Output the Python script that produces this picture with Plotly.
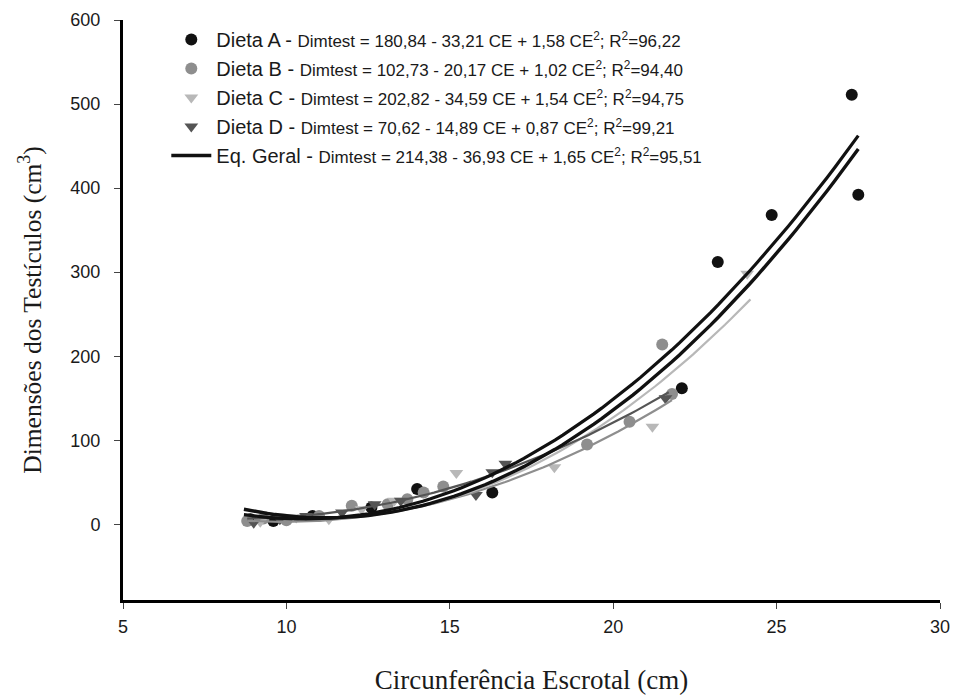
import numpy as np
import plotly.graph_objects as go

# --- data ---
a_x = [8.9, 9.6, 10.8, 12.6, 14.0, 16.3, 22.1, 23.2, 24.85, 27.3, 27.5]
a_y = [6, 4, 10, 20, 42, 38, 162, 312, 368, 511, 392]
b_x = [8.8, 9.3, 10.0, 11.0, 12.0, 13.1, 13.7, 14.2, 14.8, 19.2, 20.5, 21.5, 21.8]
b_y = [4, 7, 5, 10, 22, 24, 30, 38, 45, 95, 122, 214, 155]
c_x = [9.2, 10.3, 11.3, 12.3, 13.3, 15.2, 18.2, 21.2, 24.1]
c_y = [3, 8, 6, 18, 28, 61, 68, 116, 298]
d_x = [9.0, 9.8, 10.6, 11.7, 12.7, 13.5, 15.8, 16.3, 16.7, 21.6]
d_y = [2, 6, 10, 14, 24, 28, 35, 62, 72, 150]

# regression coefficients from the legend (b0, b1, b2) and fitted ranges
coef_a = [180.84, -33.21, 1.58]
coef_b = [102.73, -20.17, 1.02]
coef_c = [202.82, -34.59, 1.54]
coef_d = [70.62, -14.89, 0.87]
coef_g = [214.38, -36.93, 1.65]
range_a = [8.7, 27.5]
range_b = [8.8, 21.8]
range_c = [8.8, 24.2]
range_d = [8.8, 21.7]
range_g = [8.7, 27.5]

names = ["Dieta A", "Dieta B", "Dieta C", "Dieta D", "Eq. Geral"]
eqs = ["Dimtest = 180,84 - 33,21 CE + 1,58 CE<sup>2</sup>; R<sup>2</sup>=96,22",
       "Dimtest = 102,73 - 20,17 CE + 1,02 CE<sup>2</sup>; R<sup>2</sup>=94,40",
       "Dimtest = 202,82 - 34,59 CE + 1,54 CE<sup>2</sup>; R<sup>2</sup>=94,75",
       "Dimtest = 70,62 - 14,89 CE + 0,87 CE<sup>2</sup>; R<sup>2</sup>=99,21",
       "Dimtest = 214,38 - 36,93 CE + 1,65 CE<sup>2</sup>; R<sup>2</sup>=95,51"]

x_ticks = [5, 10, 15, 20, 25, 30]
y_ticks = [0, 100, 200, 300, 400, 500, 600]


def label(i):
    return names[i] + " - <span style=\"font-size:17px\">" + eqs[i] + "</span>"


def curve(coef, rng):
    xs = np.linspace(rng[0], rng[1], 80)
    return xs, coef[0] + coef[1] * xs + coef[2] * xs ** 2


fig = go.Figure()

pts = [(a_x, a_y, "circle", "#111111"),
       (b_x, b_y, "circle", "#8e8e8e"),
       (c_x, c_y, "triangle-down", "#b8b8b8"),
       (d_x, d_y, "triangle-down", "#555555")]
for i, (xs, ys, sym, col) in enumerate(pts):
    fig.add_trace(go.Scatter(x=xs, y=ys, mode="markers", name=label(i),
                             legendgroup="g%d" % i,
                             marker=dict(symbol=sym, color=col, size=12, line=dict(width=0))))

for coef, rng, col, w in [(coef_b, range_b, "#8e8e8e", 2.2),
                          (coef_c, range_c, "#b8b8b8", 2.2),
                          (coef_d, range_d, "#555555", 2.2)]:
    cx, cy = curve(coef, rng)
    fig.add_trace(go.Scatter(x=cx, y=cy, mode="lines", showlegend=False,
                             line=dict(color=col, width=w)))

cx, cy = curve(coef_a, range_a)
fig.add_trace(go.Scatter(x=cx, y=cy, mode="lines", showlegend=False,
                         line=dict(color="#111111", width=3.2)))
cx, cy = curve(coef_g, range_g)
fig.add_trace(go.Scatter(x=cx, y=cy, mode="lines", name=label(4), legendgroup="g4",
                         line=dict(color="#111111", width=3.4)))

serif = "Liberation Serif, Times New Roman, serif"
# the page body adds an 8px margin, so the figure is sized to fit the 958x695 window
fig.update_layout(
    width=950, height=687,
    margin=dict(l=115, r=18, t=12, b=95),
    plot_bgcolor="white", paper_bgcolor="white",
    font=dict(family="Liberation Sans, Arial, sans-serif", color="#1a1a1a"),
    showlegend=True,
    legend=dict(x=0.053, y=1.0, xanchor="left", yanchor="top",
                bgcolor="rgba(0,0,0,0)", font=dict(size=20, color="#1a1a1a"),
                itemwidth=40, tracegroupgap=0),
    xaxis=dict(range=[5, 30], tickvals=x_ticks, showgrid=False, zeroline=False,
               showline=True, linecolor="black", linewidth=3, automargin=False,
               ticks="outside", ticklen=6, tickwidth=1, tickcolor="#444",
               tickfont=dict(size=18), ticklabelstandoff=2,
               title=dict(text="Circunferência Escrotal (cm)",
                          font=dict(family=serif, size=27), standoff=42)),
    yaxis=dict(range=[-90, 600], tickvals=y_ticks, showgrid=False, zeroline=False,
               showline=True, linecolor="black", linewidth=3, automargin=False,
               ticks="outside", ticklen=6, tickwidth=1, tickcolor="#444",
               tickfont=dict(size=18), ticklabelstandoff=10,
               title=dict(text="Dimensões dos Testículos (cm<sup>3</sup>)",
                          font=dict(family=serif, size=25.5), standoff=22)),
)

fig.write_html("out.html")
